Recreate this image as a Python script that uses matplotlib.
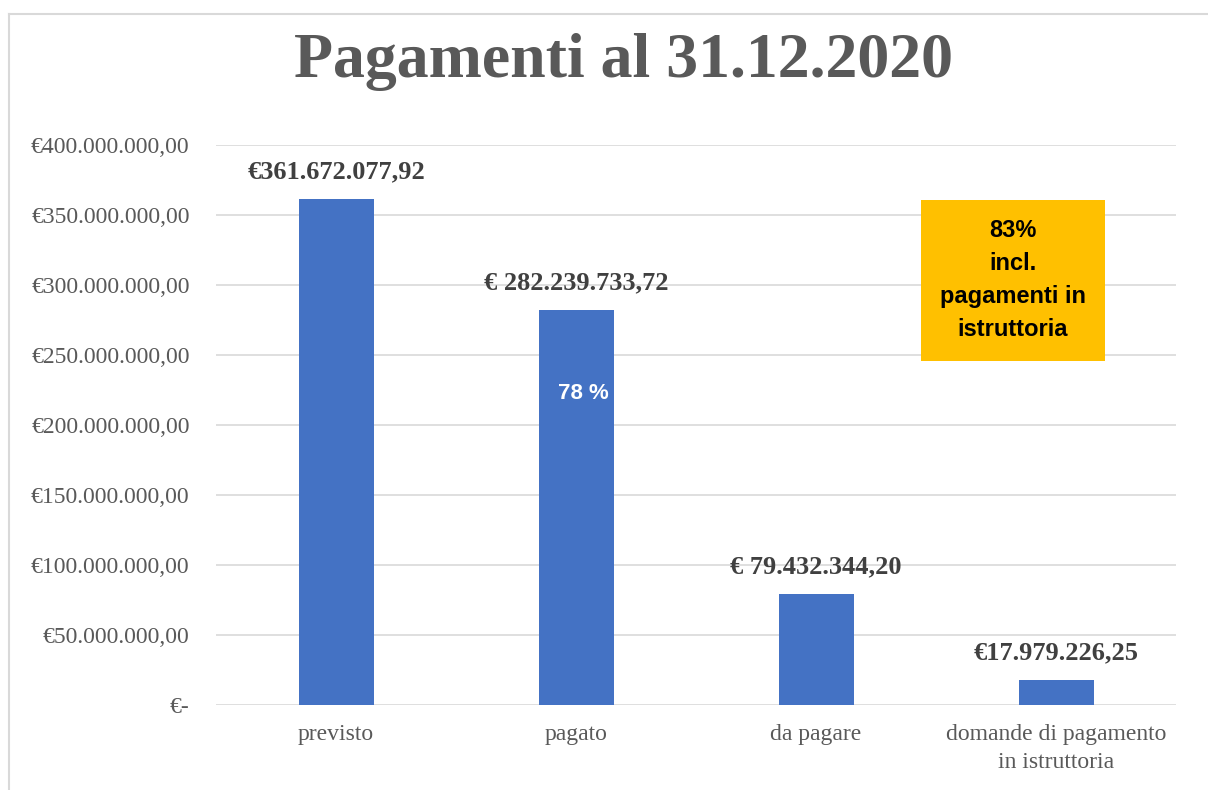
import matplotlib.pyplot as plt
from matplotlib.lines import Line2D
from matplotlib.ticker import FuncFormatter

categories = ['previsto', 'pagato', 'da pagare', 'domande di pagamento\nin istruttoria']
values = [361672077.92, 282239733.72, 79432344.20, 17979226.25]
value_labels = ['€361.672.077,92', '€ 282.239.733,72', '€ 79.432.344,20', '€17.979.226,25']
yticks = [0, 50e6, 100e6, 150e6, 200e6, 250e6, 300e6, 350e6, 400e6]


def fmt_eur(v, pos=None):
    if v == 0:
        return '€-'
    s = f'{v:,.2f}'.replace(',', 'X').replace('.', ',').replace('X', '.')
    return '€' + s


fig = plt.figure(figsize=(12.08, 7.9), dpi=100)
ax = fig.add_axes([216 / 1208, 1 - 705 / 790, 960 / 1208, 560 / 790])

x = range(len(categories))
bars = ax.bar(x, values, width=0.3125, color='#4472C4', zorder=3)

ax.set_xlim(-0.5, len(categories) - 0.5)
ax.set_ylim(0, 400e6)
ax.set_yticks(yticks)
ax.yaxis.set_major_formatter(FuncFormatter(fmt_eur))
ax.grid(axis='y', color='#D9D9D9', linewidth=1.2, zorder=0)
for s in ax.spines.values():
    s.set_visible(False)
ax.tick_params(length=0)
ax.tick_params(axis='y', pad=19)
ax.tick_params(axis='x', pad=14)
ax.set_xticks(list(x))
ax.set_xticklabels(categories, fontfamily='Liberation Serif', fontsize=17,
                   color='#595959', linespacing=1.4)
for lab in ax.get_yticklabels():
    lab.set_fontfamily('Liberation Serif')
    lab.set_fontsize(17)
    lab.set_color('#595959')

for i, (v, t) in enumerate(zip(values, value_labels)):
    ax.annotate(t, (i, v), xytext=(0, 11), textcoords='offset points',
                ha='center', va='bottom', fontfamily='Liberation Serif',
                fontweight='bold', fontsize=19, color='#404040')

ax.text(1.03, 222.5e6, '78 %', ha='center', va='center', color='white',
        fontfamily='Liberation Sans', fontweight='bold', fontsize=16, zorder=4)

# riquadro arancione
fig.patches.append(plt.Rectangle((921 / 1208, 1 - 361 / 790), 184 / 1208, 161 / 790,
                                 transform=fig.transFigure, facecolor='#FFC000',
                                 edgecolor='none', zorder=5))
t = fig.text(1013 / 1208, 1 - 280 / 790, '83%\nincl.\npagamenti in\nistruttoria',
             ha='center', va='center', fontfamily='Liberation Sans', fontweight='bold',
             fontsize=17, color='black', linespacing=1.55)
t.set_zorder(6)

fig.text(0.5165, 1 - 62 / 790, 'Pagamenti al 31.12.2020', ha='center', va='center',
         fontfamily='Liberation Serif', fontweight='bold', fontsize=46, color='#595959')

# cornice
fig.add_artist(Line2D([8.5 / 1208, 8.5 / 1208], [0, 1 - 14 / 790], color='#D9D9D9', lw=1.5))
fig.add_artist(Line2D([8.5 / 1208, 1], [1 - 14 / 790, 1 - 14 / 790], color='#D9D9D9', lw=1.5))

fig.savefig('out.png', dpi=100)
